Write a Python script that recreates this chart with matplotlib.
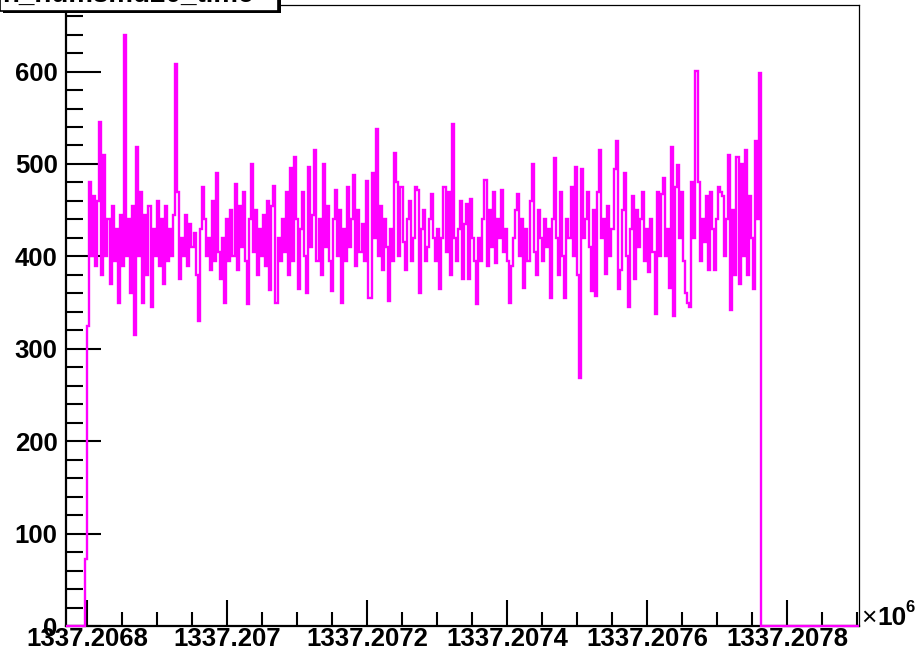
import numpy as np
import matplotlib.pyplot as plt
from matplotlib.ticker import MultipleLocator, FuncFormatter
from matplotlib.patches import Rectangle

# time range of the histogram (seconds) and where the filled bins sit
x_lo, x_hi = 1337206769.6, 1337207903.0
t_start, t_end = 1337206796.7, 1337207763.0

# entries per bin, left to right
counts_a = [72, 325, 480, 400, 465, 390, 460, 545, 380, 510,
            400, 440, 370, 455, 395, 430, 350, 445, 390, 640,
            400, 440, 360, 455, 315, 518, 400, 470, 350, 445,
            380, 455, 345, 430, 400, 460, 390, 440, 370, 455,
            395, 430, 400, 445, 608, 470, 375, 420, 400, 445,
            390, 435, 410, 425, 380, 330, 430, 475, 440, 400,
            420, 385, 460, 395, 490, 405, 375]
counts_b = [420, 350, 440, 395, 450, 400, 478, 385, 455, 410,
            470, 395, 348, 440, 500, 405, 450, 380, 430, 400,
            445, 390, 460, 364, 455, 476, 350, 420, 395, 440,
            405, 470, 380, 496, 395, 508, 440, 365, 430, 470,
            400, 360, 497, 410, 445, 515, 395, 440, 380, 500,
            410, 455, 395, 362, 440, 472, 400, 450, 350, 430,
            395, 475, 410, 440, 488, 390, 450, 405, 435, 395,
            482, 355]
counts_c = [355, 490, 420, 538, 400, 455, 385, 440, 410, 352,
            430, 395, 512, 480, 400, 475, 415, 385, 440, 460,
            395, 420, 475, 472, 360, 430, 450, 395, 410, 440,
            468, 420, 395, 430, 365, 420, 475, 405, 470, 380,
            543, 420, 395, 430, 460, 375, 435, 457, 375, 462,
            420, 395, 348, 420, 395, 440, 483, 390, 450, 410,
            470, 393, 440, 420, 472, 405, 430, 395, 350, 390,
            420, 450]
counts_d = [468, 400, 440, 366, 430, 395, 460, 500, 405, 380,
            450, 420, 395, 440, 410, 430, 355, 440, 506, 420,
            380, 470, 400, 355, 440, 420, 475, 400, 497, 380,
            268, 495, 420, 440, 470, 410, 362, 450, 357, 470,
            515, 420, 440, 381, 455, 400, 430, 495, 525, 365,
            385, 450, 490, 400, 345, 430, 465, 375, 450, 410,
            440, 470, 395, 430, 383, 440, 405, 338, 470, 400,
            467]
counts_e = [485, 400, 430, 366, 518, 336, 475, 499, 420, 470,
            395, 360, 350, 345, 480, 420, 601, 480, 395, 440,
            415, 465, 385, 470, 430, 385, 440, 475, 470, 465,
            400, 440, 510, 342, 450, 380, 508, 370, 500, 400,
            515, 380, 465, 420, 365, 525, 440, 598]

counts = counts_a + counts_b + counts_c + counts_d + counts_e
title = "h_numsmd20_time"

W, H = 917, 657
fig = plt.figure(figsize=(W / 100, H / 100), dpi=100)
fig.patch.set_facecolor('white')
ax = fig.add_axes([66 / W, (H - 626) / H, (859 - 66) / W, (626 - 5) / H])

# histogram edges: one empty bin on each side, then the filled bins
data_edges = np.linspace(t_start, t_end, len(counts) + 1)
edges = np.concatenate([[x_lo], data_edges, [x_hi]])
values = np.concatenate([[0], counts, [0]])
ax.stairs(values, edges, color='#ff00ff', lw=1.7, clip_on=False, zorder=3)

ax.set_xlim(x_lo, x_hi)
ax.set_ylim(0, 672)

# ROOT style axes: ticks inside, bold helvetica labels
ax.xaxis.set_major_locator(MultipleLocator(200))
ax.xaxis.set_minor_locator(MultipleLocator(50))
ax.yaxis.set_major_locator(MultipleLocator(100))
ax.yaxis.set_minor_locator(MultipleLocator(20))
ax.xaxis.set_major_formatter(FuncFormatter(lambda v, p: f"{v / 1e6:.4f}".rstrip('0')))
ax.tick_params(axis='y', which='major', direction='in', length=25, width=1.5, pad=6,
               labelsize=18.5, right=False)
ax.tick_params(axis='y', which='minor', direction='in', length=12, width=1.5, right=False)
ax.tick_params(axis='x', which='major', direction='in', length=19, width=1.5, pad=1,
               labelsize=18.5, top=False)
ax.tick_params(axis='x', which='minor', direction='in', length=10, width=1.5, top=False)
for lab in ax.get_xticklabels() + ax.get_yticklabels():
    lab.set_fontfamily('Liberation Sans')
    lab.set_fontweight('bold')

for side in ['left', 'bottom']:
    ax.spines[side].set_linewidth(1.6)
for side in ['top', 'right']:
    ax.spines[side].set_linewidth(0.9)

# exponent label at the end of the x axis
fig.text(861 / W, (H - 625) / H, '×', fontsize=19, family='Liberation Sans', va='baseline')
fig.text(877 / W, (H - 625) / H, '10', fontsize=19, family='Liberation Sans',
         fontweight='bold', va='baseline')
fig.text(905 / W, (H - 612) / H, '6', fontsize=12, family='Liberation Sans',
         fontweight='bold', va='baseline')

# title box, mostly cut off at the top of the canvas
fig.patches.append(Rectangle((3 / W, (H - 13) / H), 278 / W, 40 / H, transform=fig.transFigure,
                             facecolor='black', edgecolor='none', zorder=4))
fig.patches.append(Rectangle((0, (H - 11) / H), 278 / W, 40 / H, transform=fig.transFigure,
                             facecolor='white', edgecolor='black', lw=1.2, zorder=5))
fig.text(128 / W, (H - 2) / H, title, fontsize=20, family='Liberation Sans',
         fontweight='bold', ha='center', va='baseline', zorder=6)

fig.savefig('out.png', dpi=100)
